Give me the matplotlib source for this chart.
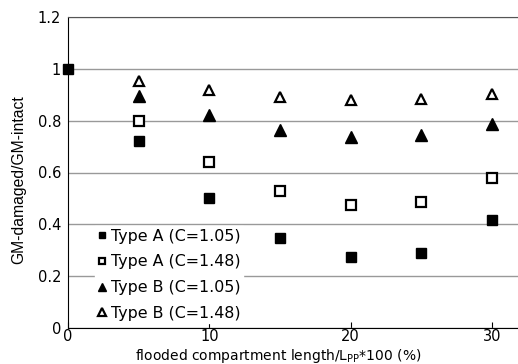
import matplotlib
matplotlib.use("Agg")
import matplotlib.pyplot as plt

plt.rcParams['font.family'] = ['DejaVu Sans']

x = [5, 10, 15, 20, 25, 30]
a_105 = [0.723, 0.50, 0.346, 0.273, 0.288, 0.415]
a_148 = [0.80, 0.64, 0.527, 0.473, 0.485, 0.577]
b_105 = [0.896, 0.823, 0.765, 0.738, 0.746, 0.789]
b_148 = [0.953, 0.919, 0.892, 0.881, 0.885, 0.904]
x0 = [0]
y0 = [1.0]

fig = plt.figure(figsize=(5.18, 3.64), dpi=100)
ax = fig.add_axes([68 / 518, 1 - 328 / 364, (518 - 68) / 518, (328 - 17) / 364])

ax.plot(x0, y0, 's', color='black', ms=7, clip_on=False, zorder=5)
ax.plot(x, a_105, 's', color='black', ms=7, label='Type A (C=1.05)', zorder=5)
ax.plot(x, a_148, 's', mfc='white', mec='black', mew=1.6, ms=6.5, label='Type A (C=1.48)', zorder=5)
ax.plot(x, b_105, '^', color='black', ms=8, label='Type B (C=1.05)', zorder=5)
ax.plot(x, b_148, '^', mfc='white', mec='black', mew=1.6, ms=7.5, label='Type B (C=1.48)', zorder=5)

ax.set_xlim(0, 31.85)
ax.set_ylim(0, 1.2)
ax.set_xticks([0, 10, 20, 30])
ax.set_yticks([0, 0.2, 0.4, 0.6, 0.8, 1.0, 1.2])
ax.set_yticklabels(['0', '0.2', '0.4', '0.6', '0.8', '1', '1.2'])
ax.tick_params(axis='x', direction='in', length=4, labelsize=10.5, pad=1)
ax.tick_params(axis='y', length=0, labelsize=10.5, pad=5)
ax.grid(axis='y', color='#999999', lw=1)
ax.set_axisbelow(True)
ax.spines['right'].set_visible(False)
ax.spines['top'].set_color('#555555')

ax.set_ylabel('GM-damaged/GM-intact', fontsize=11.3, family='Liberation Sans')
ax.yaxis.set_label_coords(-0.093, 0.476)
ax.set_xlabel('flooded compartment length/L$_{\\mathregular{PP}}$*100 (%)', fontsize=10)
ax.xaxis.set_label_coords(0.467, -0.062)

leg = ax.legend(loc='lower left', bbox_to_anchor=(0.042, -0.01), frameon=True, fontsize=11.4,
                handlelength=0.6, handletextpad=0.25, labelspacing=0.68, borderpad=0.15,
                markerscale=0.7)
leg.get_frame().set_edgecolor('white')
leg.get_frame().set_facecolor('white')
leg.get_frame().set_alpha(1)
leg.get_frame().set_boxstyle('square', pad=0)

fig.savefig('out.png', dpi=100)
